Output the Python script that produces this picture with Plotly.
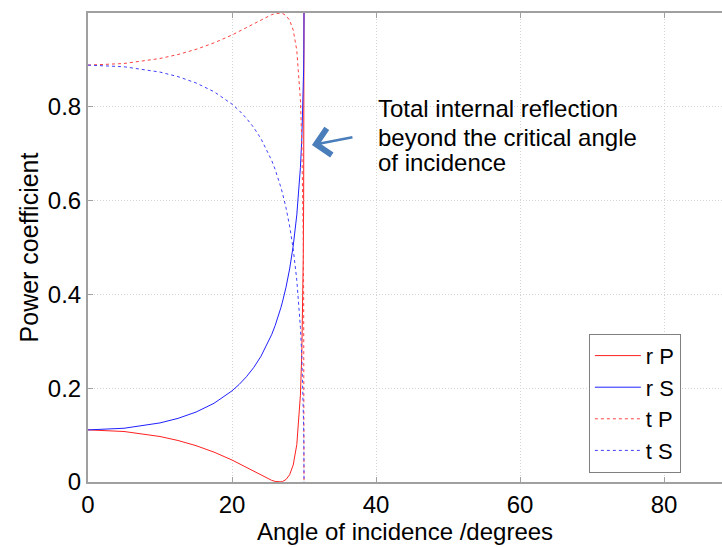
import plotly.graph_objects as go

# Angle of incidence (degrees)
angle = [0, 5, 10, 12.5, 15, 17.5, 20, 21, 22, 23, 24, 25, 25.5, 26, 26.3, 26.57,
         26.8, 27, 27.5, 28, 28.5, 29, 29.5, 29.7, 29.8, 29.9, 29.95, 29.98, 29.995, 30]

r_P = [0.1111, 0.1077, 0.0970, 0.0885, 0.0775, 0.0637, 0.0469, 0.0392, 0.0312, 0.0228,
       0.0145, 0.0068, 0.0036, 0.0012, 0.0003, 0.0, 0.0003, 0.0009, 0.0053, 0.0154,
       0.0363, 0.0798, 0.1850, 0.2779, 0.3549, 0.4843, 0.6004, 0.7248, 0.8515, 1.0]
r_S = [0.1111, 0.1146, 0.1260, 0.1357, 0.1491, 0.1678, 0.1943, 0.2081, 0.2244, 0.2438,
       0.2674, 0.2966, 0.3140, 0.3339, 0.3472, 0.3603, 0.3723, 0.3835, 0.4153, 0.4541,
       0.5033, 0.5695, 0.6705, 0.7333, 0.7760, 0.8358, 0.8808, 0.9229, 0.9606, 1.0]
t_P = [0.8889, 0.8923, 0.9030, 0.9115, 0.9225, 0.9363, 0.9531, 0.9608, 0.9688, 0.9772,
       0.9855, 0.9932, 0.9964, 0.9988, 0.9997, 1.0, 0.9997, 0.9991, 0.9947, 0.9846,
       0.9637, 0.9202, 0.8150, 0.7221, 0.6451, 0.5157, 0.3996, 0.2752, 0.1485, 0.0]
t_S = [0.8889, 0.8854, 0.8740, 0.8643, 0.8509, 0.8322, 0.8057, 0.7919, 0.7756, 0.7562,
       0.7326, 0.7034, 0.6860, 0.6661, 0.6528, 0.6397, 0.6277, 0.6165, 0.5847, 0.5459,
       0.4967, 0.4305, 0.3295, 0.2667, 0.2240, 0.1642, 0.1192, 0.0771, 0.0394, 0.0]

series_names = ["r P", "r S", "t P", "t S"]
x_ticks = [0, 20, 40, 60, 80]
y_ticks = [0, 0.2, 0.4, 0.6, 0.8, 1]
y_ticktext = ["0", "0.2", "0.4", "0.6", "0.8", "1"]
note_lines = ["Total internal reflection", "beyond the critical angle", "of incidence"]

FONT = "Liberation Sans, Arial, sans-serif"
AXC = "#a0a0a0"
GRID = "#d4d4d4"

fig = go.Figure()
styles = [("#ff2020", "solid"), ("#2020ff", "solid"), ("#ff4040", "dot"), ("#4040ff", "dot")]
for name, ys, (col, dash) in zip(series_names, [r_P, r_S, t_P, t_S], styles):
    fig.add_trace(go.Scatter(x=angle, y=ys, mode="lines", name=name,
                             line=dict(color=col, width=1.0, dash=dash)))

fig.update_layout(
    width=722, height=547,
    margin=dict(l=88, r=0, t=13, b=65),
    paper_bgcolor="white", plot_bgcolor="white",
    font=dict(family=FONT, size=24, color="black"),
    showlegend=True,
    legend=dict(x=0.79, y=0.316, xanchor="left", yanchor="top",
                bgcolor="white", bordercolor="#808080", borderwidth=1,
                font=dict(size=22), tracegroupgap=0, itemwidth=46),
)

fig.update_xaxes(
    range=[0, 88.05], tickvals=x_ticks, ticks="inside", ticklen=5, tickcolor=AXC,
    showline=True, linecolor=AXC, linewidth=2, mirror="ticks",
    showgrid=True, gridcolor=GRID, griddash="1px,2px", gridwidth=1,
    zeroline=False, tickfont=dict(size=24),
    title=dict(text="Angle of incidence /degrees", font=dict(size=24), standoff=3),
)
fig.update_yaxes(
    range=[0, 1], tickvals=y_ticks, ticktext=y_ticktext, ticks="inside", ticklen=5,
    tickcolor=AXC, showline=True, linecolor=AXC, linewidth=2, mirror=False,
    showgrid=True, gridcolor=GRID, griddash="1px,2px", gridwidth=1,
    zeroline=False, tickfont=dict(size=24),
    title=dict(text="Power coefficient", font=dict(size=25), standoff=2),
)

# arrow
fig.add_annotation(x=31.1, y=0.7186, xref="x", yref="y", text="",
                   showarrow=True, axref="pixel", ayref="pixel", ax=42, ay=-8,
                   arrowhead=4, arrowsize=2.0, arrowwidth=2.6, arrowcolor="#4a7ebb")

ys_note = [0.7974, 0.7356, 0.6802]
for line, yv in zip(note_lines, ys_note):
    fig.add_annotation(x=0.4543, y=yv, xref="paper", yref="paper", text=line,
                       showarrow=False, xanchor="left", yanchor="middle",
                       font=dict(size=24, color="black"))

fig.write_html("out.html")
